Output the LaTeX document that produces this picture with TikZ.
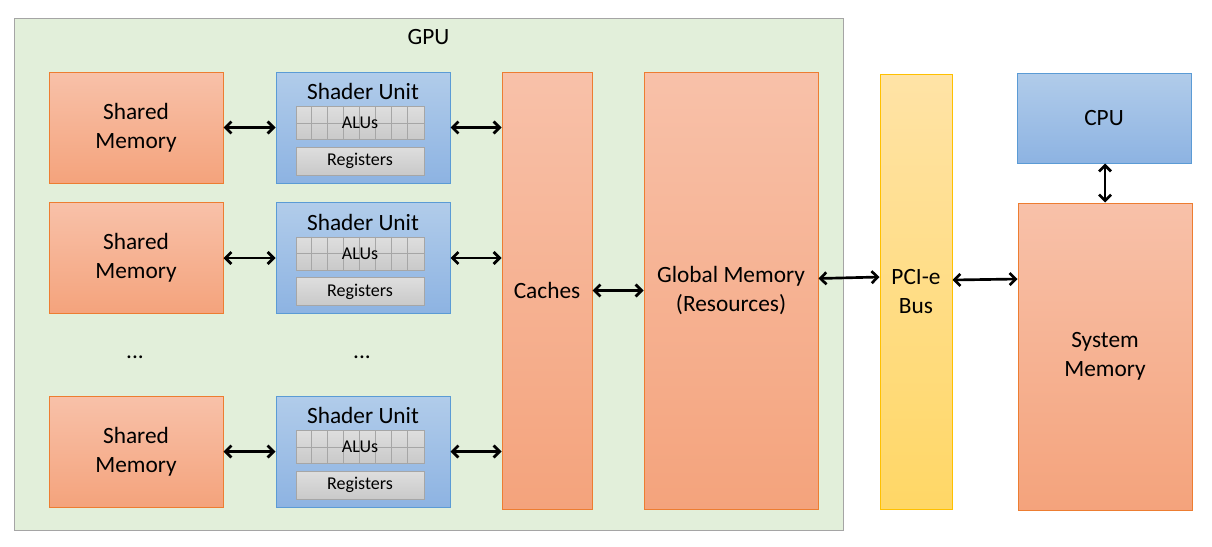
\documentclass[tikz,border=0pt]{standalone}
\usepackage{fontspec}
\setmainfont{Carlito}
\usetikzlibrary{arrows.meta,positioning,calc}
\definecolor{GpuGreen}{HTML}{E2EFDA}
\definecolor{FrameGray}{HTML}{A5A5A5}
\definecolor{MemTop}{HTML}{F8C1A9}
\definecolor{MemBottom}{HTML}{F4A37C}
\definecolor{MemEdge}{HTML}{ED7D31}
\definecolor{UnitTop}{HTML}{B1CCEA}
\definecolor{UnitBottom}{HTML}{8DB3E2}
\definecolor{UnitEdge}{HTML}{5B9BD5}
\definecolor{BusTop}{HTML}{FFE3A6}
\definecolor{BusBottom}{HTML}{FFD766}
\definecolor{BusEdge}{HTML}{FFC000}
\definecolor{AluTop}{HTML}{DEDEDE}
\definecolor{AluBottom}{HTML}{C9C9C9}
\definecolor{AluEdge}{HTML}{A6A6A6}
\tikzset{
  big text/.style={font=\fontsize{17.5}{21.75}\selectfont},
  small text/.style={font=\fontsize{13.5}{16}\selectfont},
  mem node/.style={draw=MemEdge,top color=MemTop,bottom color=MemBottom,align=center,
    big text,inner sep=0pt,line width=0.75pt,minimum width=130.5pt,minimum height=83.25pt},
  unit node/.style={draw=UnitEdge,top color=UnitTop,bottom color=UnitBottom,align=center,
    big text,inner sep=0pt,line width=0.75pt,minimum width=130.5pt,minimum height=83.25pt},
  alu node/.style={draw=AluEdge,top color=AluTop,bottom color=AluBottom,small text,
    inner sep=0pt,line width=0.75pt,minimum width=96pt,minimum height=24.75pt},
  bus node/.style={draw=BusEdge,top color=BusTop,bottom color=BusBottom,align=center,
    big text,inner sep=0pt,line width=0.75pt,minimum width=54pt,minimum height=326.25pt},
  link/.style={{Straight Barb[length=4.5pt,width=9pt]}-{Straight Barb[length=4.5pt,width=9pt]},
    line width=2pt,black}
}
\begin{document}
\begin{tikzpicture}[x=0.75pt,y=-0.75pt]
  \useasboundingbox (0,0) rectangle (1212,546);
  \node[draw=FrameGray,fill=GpuGreen,line width=0.75pt,minimum width=621.75pt,minimum height=384pt,inner sep=0pt] (gpu) at (428.5,274) {};
  \node[big text] (gpulabel) at ($(gpu.north)+(0,20)$) {GPU};
  \foreach \i/\y in {1/127.5,2/258,3/451.5}{
    \node[mem node] (sm\i) at (136,\y) {Shared\\Memory};
    \node[unit node] (su\i) at (363,\y) {};
    \node[big text] (sut\i) at ($(su\i.north)+(0,20)$) {Shader Unit};
    \node[alu node] (alu\i) at ($(su\i.north)+(-3,51.5)$) {};
    \foreach \k in {1,...,7}
      \draw[AluEdge,line width=0.75pt] ($(alu\i.north west)+(\k*16,0)$) -- ($(alu\i.south west)+(\k*16,0)$);
    \draw[AluEdge,line width=0.75pt] (alu\i.west) -- (alu\i.east);
    \node[small text] (alut\i) at (alu\i) {ALUs};
    \node[alu node,minimum height=21pt] (reg\i) at ($(su\i.north)+(-3,89.5)$) {Registers};
  }
  \node[big text] (dots1) at (135,357) {...};
  \node[big text] (dots2) at (362,357) {...};
  \node[mem node,minimum width=67.5pt,minimum height=327.75pt] (caches) at (547,290.5) {Caches};
  \node[mem node,minimum height=327.75pt] (gmem) at (731,290.5) {Global Memory\\(Resources)};
  \node[bus node] (pcie) at (916,291.5) {PCI-e\\Bus};
  \node[unit node,minimum height=67.5pt] (cpu) at (1104,118) {CPU};
  \node[mem node,minimum height=230.25pt] (sysmem) at (1105,356.5) {System\\Memory};
  \foreach \i in {1,2,3}{
    \draw[link] (sm\i) -- (su\i);
    \draw[link] (su\i.east) -- (caches.west |- su\i.east);
  }
  \draw[link] (caches) -- (gmem);
  \draw[link] ($(gmem.east)+(0,-12)$) -- ($(pcie.west)+(0,-14.5)$);
  \draw[link] ($(pcie.east)+(0,-11.5)$) -- ($(sysmem.west)+(0,-77.5)$);
  \draw[link] (cpu.south -| sysmem.north) -- (sysmem.north);
\end{tikzpicture}
\end{document}
